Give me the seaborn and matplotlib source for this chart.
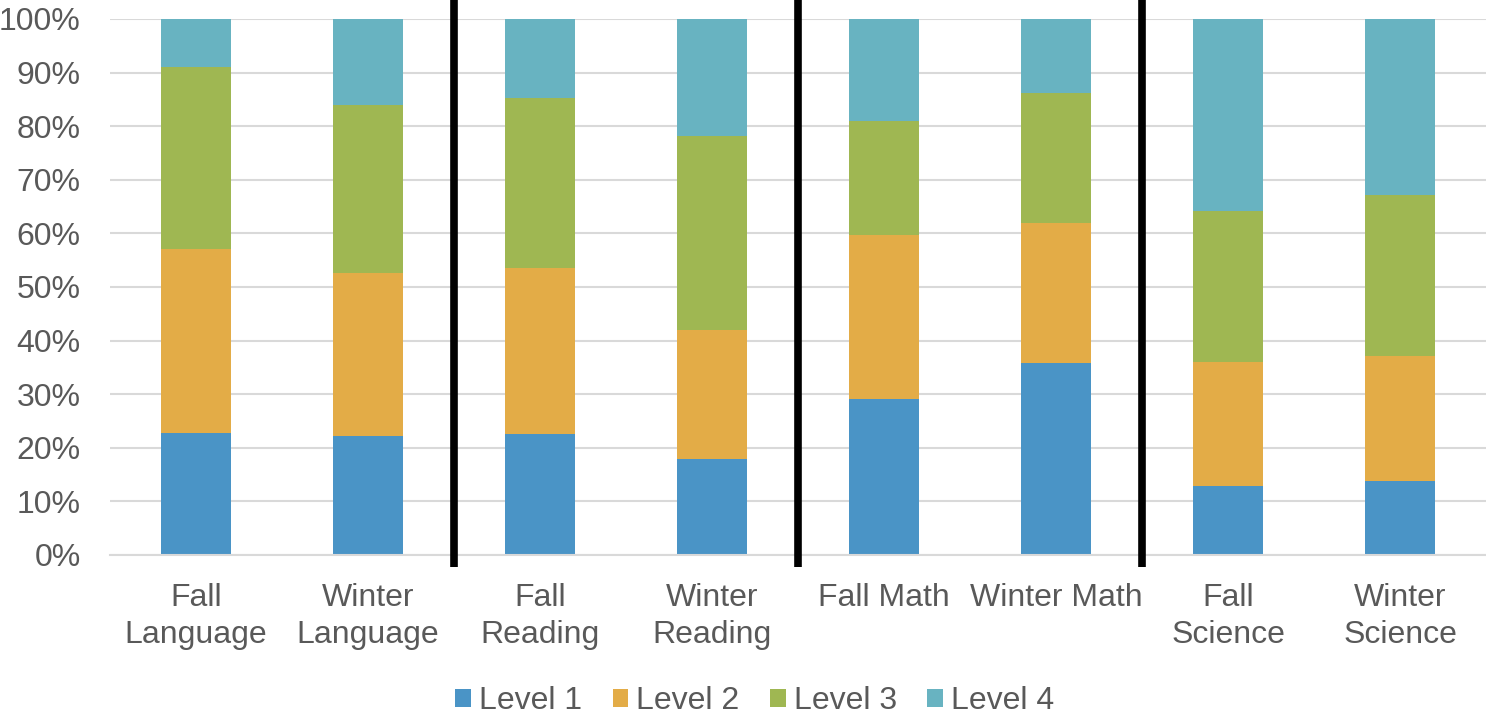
import numpy as np
import pandas as pd
import matplotlib
matplotlib.use("Agg")
import matplotlib.pyplot as plt
import seaborn as sns
from matplotlib.patches import Patch

# bar categories and the share (%) at each level
categories = ["Fall\nLanguage", "Winter\nLanguage", "Fall\nReading", "Winter\nReading",
              "Fall Math", "Winter Math", "Fall\nScience", "Winter\nScience"]
level1 = [22.8, 22.2, 22.6, 17.9, 29.1, 35.8, 12.9, 13.8]
level2 = [34.3, 30.4, 30.9, 24.1, 30.6, 26.1, 23.1, 23.3]
level3 = [33.9, 31.4, 31.8, 36.2, 21.3, 24.3, 28.2, 30.1]
level4 = [9.0, 16.0, 14.7, 21.8, 19.0, 13.8, 35.8, 32.8]

levels = ["Level 1", "Level 2", "Level 3", "Level 4"]
colors = ["#4A94C6", "#E3AC47", "#9FB752", "#68B3C1"]
separators = [1.5, 3.5, 5.5]

sns.set_style("white")
plt.rcParams["font.family"] = ["Liberation Sans", "DejaVu Sans"]
text_color = "#595959"

df = pd.DataFrame({"cat": categories, "Level 1": level1, "Level 2": level2,
                   "Level 3": level3, "Level 4": level4})
cum = df[levels].cumsum(axis=1)

fig = plt.figure(figsize=(14.86, 7.21), dpi=100)
ax = fig.add_axes([110 / 1486, 1 - 555 / 721, 1376 / 1486, 536 / 721])

# draw stacked bars: tallest (cumulative) first, then the lower ones on top
for lvl, col in reversed(list(zip(levels, colors))):
    sns.barplot(x=df["cat"], y=cum[lvl], color=col, width=0.407, ax=ax,
                saturation=1, edgecolor="none", zorder=2)

ax.set_xlim(-0.5, 7.5)
ax.set_ylim(0, 100)
ax.set_yticks(np.arange(0, 101, 10))
ax.set_yticklabels([f"{v}%" for v in range(0, 101, 10)])
ax.yaxis.grid(True, color="#D9D9D9", linewidth=1.5, zorder=0)
ax.set_axisbelow(True)
for s in ["top", "right", "left"]:
    ax.spines[s].set_visible(False)
ax.spines["bottom"].set_color("#D9D9D9")
ax.spines["bottom"].set_linewidth(1.5)
ax.set_xlabel("")
ax.set_ylabel("")
ax.tick_params(axis="both", length=0, labelsize=23, colors=text_color)
ax.tick_params(axis="y", pad=21)
ax.tick_params(axis="x", pad=20)
for lab in ax.get_xticklabels():
    lab.set_linespacing(1.3)

# thick black separators between subjects
for xs in separators:
    ax.plot([xs, xs], [-2.2, 103.6], color="black", linewidth=5.5,
            clip_on=False, zorder=5, solid_capstyle="butt")

handles = [Patch(facecolor=c, edgecolor="none", label=l) for l, c in zip(levels, colors)]
fig.legend(handles=handles, loc="center", bbox_to_anchor=(0.508, 1 - 701 / 721), ncol=4,
           frameon=False, fontsize=23, handlelength=0.5, handleheight=0.5,
           handletextpad=0.25, columnspacing=0.95, labelcolor=text_color)

fig.savefig("out.png", dpi=100)
